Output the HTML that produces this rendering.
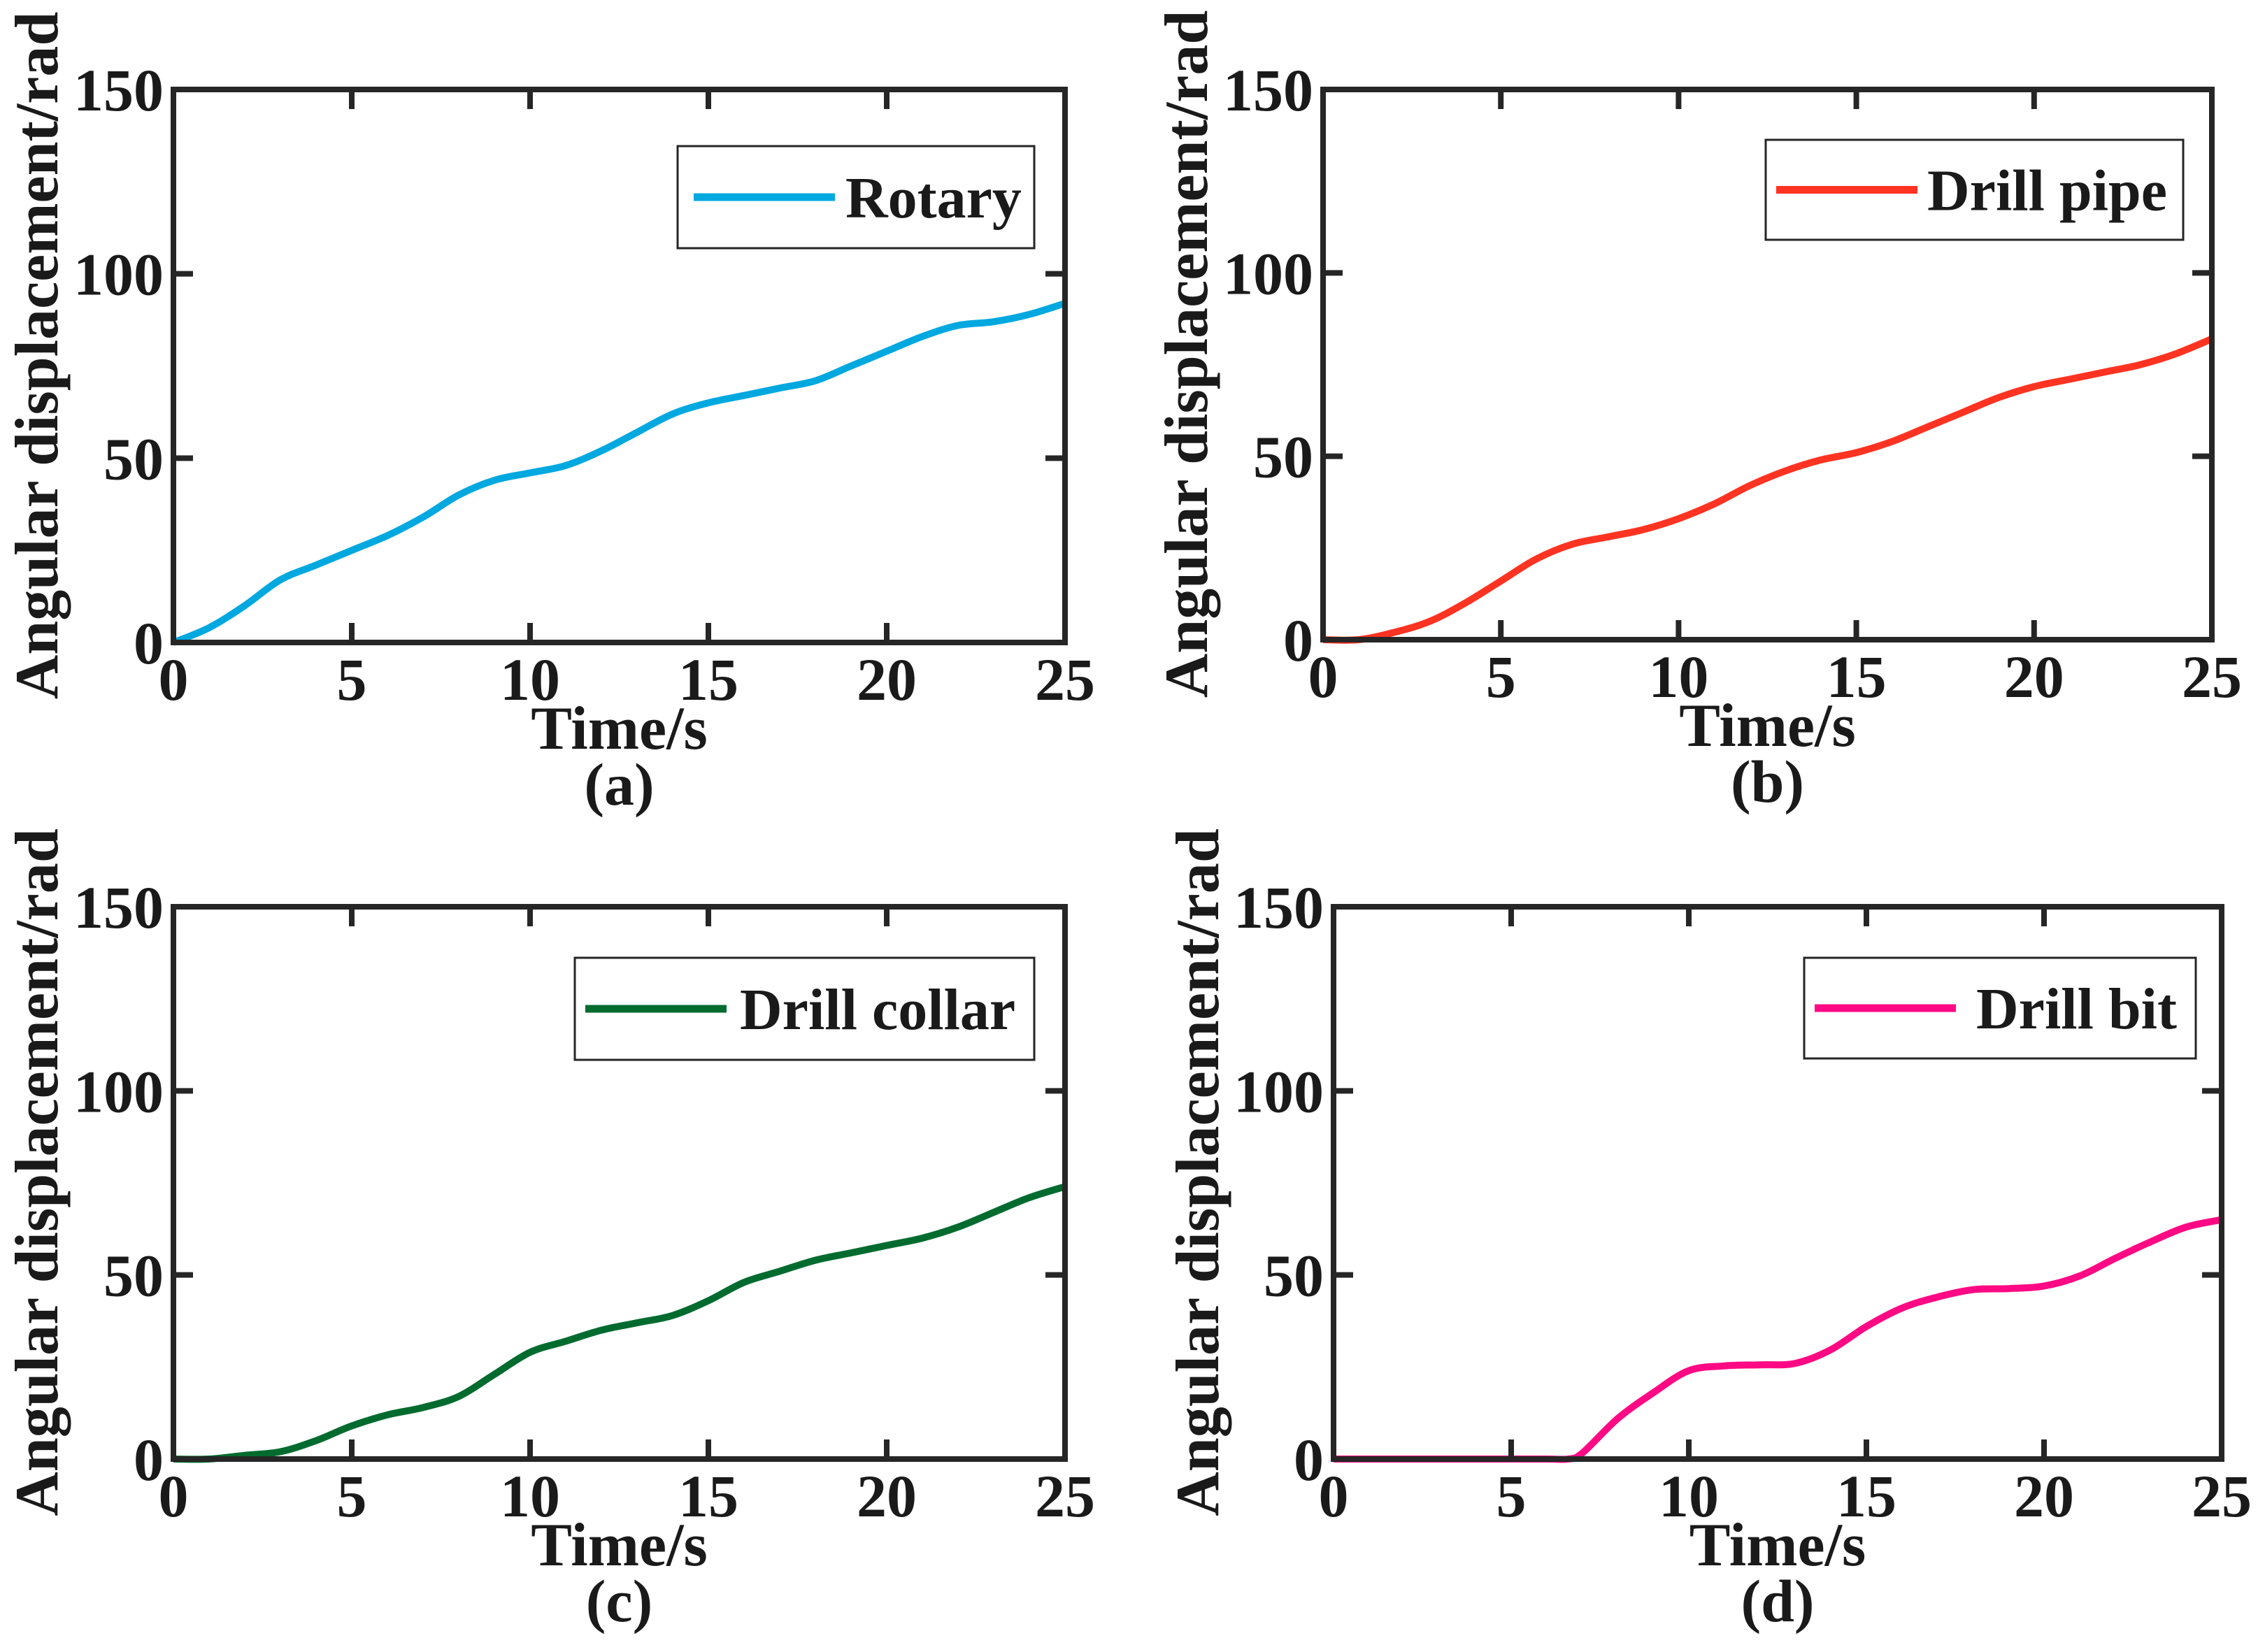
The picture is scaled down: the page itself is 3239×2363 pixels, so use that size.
<!DOCTYPE html>
<html><head><meta charset="utf-8">
<style>
html,body{margin:0;padding:0;background:#fff;}
svg{display:block;}
text{font-family:"Liberation Serif",serif;font-weight:bold;fill:#1a1a1a;}
</style></head>
<body>
<svg id="fig" width="3239" height="2363" viewBox="0 0 3239 2363" xmlns="http://www.w3.org/2000/svg"></svg>
<script>
const xTicks=[0,5,10,15,20,25];
const yTicks=[0,50,100,150];
const tA=[0,1,2,3,4,5,6,7,8,9,10,11,12,13,14,15,16,17,18,19,20,21,22,23,24,25];
const rotaryVals=[0,4,10,17,21,25,29,34,40,44,46,48,52,57,62,65,67,69,71,75,79,83,86,87,89,92];
const pipeVals=[0,0,2,5,10,16,22,26,28,30,33,37,42,46,49,51,54,58,62,66,69,71,73,75,78,82];
const collarVals=[0,0,1,2,5,9,12,14,17,23,29,32,35,37,39,43,48,51,54,56,58,60,63,67,71,74];
const tD=[0,2,4,6,6.6,7,8,9,10,11,12,13,14,15,16,17,18,19,20,21,22,23,24,25];
const bitVals=[0,0,0,0,0,1.6,11,18,24,25.3,25.6,26,29.7,36,41,44,46,46.3,47,49.7,54.5,59,63,65];
const labels=["Rotary","Drill pipe","Drill collar","Drill bit"];
const colors=["#00a8e0","#ff3322","#006b2e","#ff0a84"];
const panelTags=["(a)","(b)","(c)","(d)"];

const NS="http://www.w3.org/2000/svg";
const svg=document.getElementById('fig');
function mk(tag,attrs,parent){const e=document.createElementNS(NS,tag);for(const k in attrs)e.setAttribute(k,attrs[k]);(parent||svg).appendChild(e);return e;}

const panels=[
 {L:248,R:1523,T:128,B:919,t:tA,v:rotaryVals,leg:[969,209,1479,355,992,1194,1209],ylx:52},
 {L:1892,R:3163,T:128,B:915,t:tA,v:pipeVals,leg:[2525,200,3122,343,2540,2742,2756],ylx:1696},
 {L:248,R:1523,T:1297,B:2087,t:tA,v:collarVals,leg:[822,1370,1479,1516,837,1039,1058],ylx:52},
 {L:1907,R:3177,T:1297,B:2087,t:tD,v:bitVals,leg:[2580,1370,3140,1514,2595,2797,2826],ylx:1712}
];

panels.forEach((p,i)=>{
  const g=mk('g',{});
  
  
  const xs=x=>p.L+(x-0)/25*(p.R-p.L);
  const ys=y=>p.B-(y-0)/150*(p.B-p.T);
  const pts=p.t.map((t,k)=>[xs(t),ys(p.v[k])]);
  let d='M'+pts[0][0].toFixed(1)+','+pts[0][1].toFixed(1);
  for(let k=0;k<pts.length-1;k++){
    const p0=pts[k-1]||pts[k],p1=pts[k],p2=pts[k+1],p3=pts[k+2]||p2;
    const c1=[p1[0]+(p2[0]-p0[0])/6,p1[1]+(p2[1]-p0[1])/6];
    const c2=[p2[0]-(p3[0]-p1[0])/6,p2[1]-(p3[1]-p1[1])/6];
    d+=' C'+c1.map(n=>n.toFixed(1))+' '+c2.map(n=>n.toFixed(1))+' '+p2.map(n=>n.toFixed(1));
  }
  const line=mk('path',{d:d,fill:'none',stroke:colors[i],'stroke-width':10,'stroke-linejoin':'round'},g);
  
  
  xTicks.forEach(x=>{
    mk('line',{x1:xs(x),x2:xs(x),y1:p.B,y2:p.B-28,stroke:'#262626','stroke-width':8},g);
    mk('line',{x1:xs(x),x2:xs(x),y1:p.T,y2:p.T+28,stroke:'#262626','stroke-width':8},g);
    const tl=mk('text',{x:xs(x),y:p.B+82,'font-size':86,'text-anchor':'middle'},g);
    tl.textContent=x;
    
    
  });
  yTicks.forEach(y=>{
    mk('line',{x1:p.L,x2:p.L+28,y1:ys(y),y2:ys(y),stroke:'#262626','stroke-width':8},g);
    mk('line',{x1:p.R,x2:p.R-28,y1:ys(y),y2:ys(y),stroke:'#262626','stroke-width':8},g);
    const tl=mk('text',{x:p.L-14,y:ys(y)+30,'font-size':86,'text-anchor':'end'},g);
    tl.textContent=y;
    
    
  });
  const box=mk('rect',{x:p.L,y:p.T,width:p.R-p.L,height:p.B-p.T,fill:'none',stroke:'#262626','stroke-width':8},g);
  
  
  const xt=mk('text',{x:(p.L+p.R)/2,y:p.B+152,'font-size':88,'text-anchor':'middle'},g);
  xt.textContent='Time/s';
  
  
  const pt=mk('text',{x:(p.L+p.R)/2,y:p.B+232,'font-size':86,'text-anchor':'middle'},g);
  pt.textContent=panelTags[i];
  
  
  const yc=(p.T+p.B)/2-15;
  const yt=mk('text',{x:0,y:0,'font-size':88,'text-anchor':'middle',transform:'translate('+(p.ylx+30)+','+yc+') rotate(-90)'},g);
  yt.textContent='Angular displacement/rad';
  
  
  const l=p.leg;
  const lg=mk('g',{},g);
  
  
  mk('rect',{x:l[0],y:l[1],width:l[2]-l[0],height:l[3]-l[1],fill:'#fff',stroke:'#262626','stroke-width':3},lg);
  const ly=(l[1]+l[3])/2;
  mk('line',{x1:l[4],x2:l[5],y1:ly,y2:ly,stroke:colors[i],'stroke-width':11},lg);
  const lt=mk('text',{x:l[6],y:ly+29,'font-size':84},lg);
  lt.textContent=labels[i];
  
  
});
</script>
</body></html>
